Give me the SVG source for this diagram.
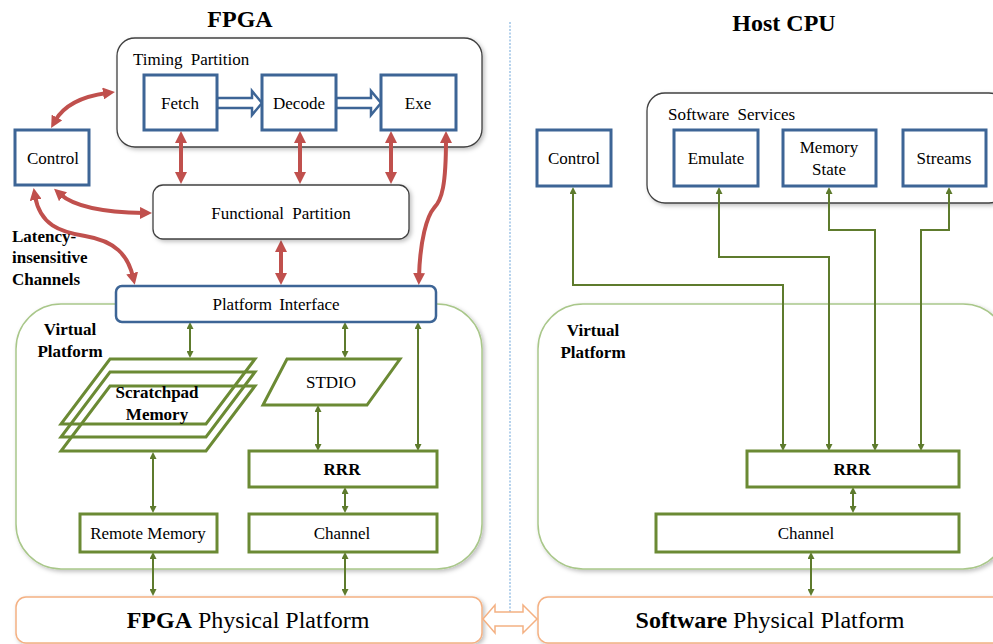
<svg xmlns="http://www.w3.org/2000/svg" width="993" height="644" viewBox="0 0 993 644">
<style>
text{font-family:"Liberation Serif","Times New Roman",serif;fill:#000;font-size:17px}
.b{font-weight:bold}
.t{font-size:24px;font-weight:bold}
.c{text-anchor:middle}
.blue{fill:#fff;stroke:#3d6596;stroke-width:3}
.grn{fill:#fff;stroke:#6b8a34;stroke-width:3}
.cont{fill:#fff;stroke:#404040;stroke-width:1.3}
.vp{fill:#fff;stroke:#a9c78a;stroke-width:1.5}
.phys{fill:#fff;stroke:#f4b183;stroke-width:1.5}
.red{fill:none;stroke:#c0504d;stroke-width:4;marker-start:url(#ra);marker-end:url(#ra)}
.g{fill:none;stroke:#5e7b2d;stroke-width:2;marker-start:url(#ga);marker-end:url(#ga)}
.para{fill:none;stroke:#6b8a34;stroke-width:3}
</style>
<defs>
<marker id="ra" viewBox="0 0 12 12" markerWidth="12" markerHeight="12" refX="4" refY="6" orient="auto-start-reverse" markerUnits="userSpaceOnUse"><path d="M0,0 L12,6 L0,12 z" fill="#c0504d"/></marker>
<marker id="ga" viewBox="0 0 7 7" markerWidth="7" markerHeight="7" refX="3" refY="3.5" orient="auto-start-reverse" markerUnits="userSpaceOnUse"><path d="M0,0 L7,3.5 L0,7 z" fill="#5e7b2d"/></marker>
<filter id="sh" x="-5%" y="-5%" width="110%" height="120%"><feDropShadow dx="2" dy="2" stdDeviation="2" flood-color="#000" flood-opacity="0.25"/></filter>
</defs>
<rect width="993" height="644" fill="#fff"/>

<g id="titles">
<text class="t c" x="240" y="27">FPGA</text>
<text class="t c" x="784" y="31">Host CPU</text>
</g>
<line id="divider" x1="510" y1="22" x2="510" y2="612" stroke="#9dc3e6" stroke-width="1.5" stroke-dasharray="2,1.5"/>

<g id="timing-partition">
<rect class="cont" x="117" y="38" width="365" height="109" rx="18" filter="url(#sh)"/>
<text x="133" y="65" word-spacing="4">Timing Partition</text>
</g>
<g id="software-services">
<rect class="cont" x="647" y="93" width="360" height="110" rx="18" filter="url(#sh)"/>
<text x="668" y="120" word-spacing="4">Software Services</text>
</g>
<g id="fpga-virtual-platform">
<rect class="vp" x="16" y="304" width="466" height="265" rx="45" filter="url(#sh)"/>
<text class="b c" x="70" y="335">Virtual</text>
<text class="b c" x="70" y="357">Platform</text>
</g>
<g id="host-virtual-platform">
<rect class="vp" x="538" y="304" width="470" height="265" rx="45" filter="url(#sh)"/>
<text class="b c" x="593" y="336">Virtual</text>
<text class="b c" x="593" y="358">Platform</text>
</g>
<g id="fpga-physical-platform">
<rect class="phys" x="16" y="597" width="466" height="46" rx="10" filter="url(#sh)"/>
<text class="c" x="248" y="628" style="font-size:24px"><tspan font-weight="bold">FPGA</tspan> Physical Platform</text>
</g>
<g id="software-physical-platform">
<rect class="phys" x="538" y="597" width="470" height="46" rx="10" filter="url(#sh)"/>
<text class="c" x="770" y="628" style="font-size:24px"><tspan font-weight="bold">Software</tspan> Physical Platform</text>
</g>

<g id="latency-label">
<text class="b" x="12" y="242">Latency-</text>
<text class="b" x="12" y="263">insensitive</text>
<text class="b" x="12" y="285">Channels</text>
</g>

<g id="connectors">
<path class="red" d="M55,121 C65,103 85,96 107,93"/>
<path class="red" d="M181,139 V176"/>
<path class="red" d="M300,139 V176"/>
<path class="red" d="M391,139 V176"/>
<path class="red" d="M446,139 C446,185 442,200 434,208 C427,216 420,240 419,277"/>
<path class="red" d="M60,194 Q80,212 144,213"/>
<path class="red" d="M35,196 C40,225 60,232 85,236 C115,241 128,255 133,277"/>
<path class="red" d="M281,248 V277"/>
<path d="M217,98 H252 V91 L262,103 L252,115 V108 H217 Z" fill="#fff" stroke="#3d6596" stroke-width="2.5" stroke-linejoin="miter"/>
<path d="M336,98 H371 V91 L381,103 L371,115 V108 H336 Z" fill="#fff" stroke="#3d6596" stroke-width="2.5" stroke-linejoin="miter"/>
<path class="g" d="M190,326 V354"/>
<path class="g" d="M345,326 V354"/>
<path class="g" d="M418,326 V447"/>
<path class="g" d="M318,409 V447"/>
<path class="g" d="M153,456 V509"/>
<path class="g" d="M345,491 V509"/>
<path class="g" d="M153,556 V592"/>
<path class="g" d="M345,556 V592"/>
<path class="g" d="M573,191 V285 H783 V447"/>
<path class="g" d="M719,191 V257 H829 V447"/>
<path class="g" d="M829,191 V230 H875 V447"/>
<path class="g" d="M949,191 V230 H921 V447"/>
<path class="g" d="M853,491 V509"/>
<path class="g" d="M811,556 V592"/>
<path d="M483,619 L495,605 V612 H523 V605 L537,619 L523,633 V626 H495 V633 Z" fill="#fff" stroke="#f4b183" stroke-width="1.5"/>
</g>

<g id="fetch"><rect class="blue" x="144" y="75" width="73" height="55"/><text class="c" x="180" y="109">Fetch</text></g>
<g id="decode"><rect class="blue" x="262" y="75" width="74" height="55"/><text class="c" x="299" y="109">Decode</text></g>
<g id="exe"><rect class="blue" x="381" y="75" width="75" height="55"/><text class="c" x="418" y="109">Exe</text></g>
<g id="control-fpga"><rect class="blue" x="15" y="130" width="74" height="55"/><text class="c" x="53" y="164">Control</text></g>
<g id="functional-partition"><rect class="cont" x="153" y="185" width="256" height="54" rx="10" filter="url(#sh)"/><text class="c" x="281" y="219" word-spacing="4">Functional Partition</text></g>
<g id="platform-interface"><rect fill="#fff" stroke="#3d6596" stroke-width="2.5" x="116" y="286" width="320" height="36" rx="6"/><text class="c" x="276" y="310" word-spacing="3">Platform Interface</text></g>

<g id="scratchpad-memory">
<polygon class="para" points="110,359 255,359 206,424 61,424"/>
<polygon class="para" points="110,372 255,372 206,437 61,437"/>
<polygon class="para" points="110,386 255,386 206,451 61,451"/>
<text class="b c" x="157" y="398">Scratchpad</text>
<text class="b c" x="157" y="420">Memory</text>
</g>
<g id="stdio"><polygon class="para" points="287,359 400,359 367,405 263,405"/><text class="c" x="331" y="388">STDIO</text></g>
<g id="rrr-fpga"><rect class="grn" x="249" y="451" width="188" height="36"/><text class="b c" x="342" y="475">RRR</text></g>
<g id="remote-memory"><rect class="grn" x="80" y="514" width="137" height="38"/><text class="c" x="148" y="539">Remote Memory</text></g>
<g id="channel-fpga"><rect class="grn" x="249" y="514" width="188" height="38"/><text class="c" x="342" y="539">Channel</text></g>

<g id="control-host"><rect class="blue" x="537" y="130" width="74" height="56"/><text class="c" x="574" y="164">Control</text></g>
<g id="emulate"><rect class="blue" x="674" y="130" width="84" height="56"/><text class="c" x="716" y="164">Emulate</text></g>
<g id="memory-state"><rect class="blue" x="783" y="130" width="93" height="56"/><text class="c" x="829" y="153">Memory</text><text class="c" x="829" y="175">State</text></g>
<g id="streams"><rect class="blue" x="903" y="130" width="83" height="56"/><text class="c" x="944" y="164">Streams</text></g>
<g id="rrr-host"><rect class="grn" x="747" y="451" width="212" height="36"/><text class="b c" x="852" y="475">RRR</text></g>
<g id="channel-host"><rect class="grn" x="656" y="514" width="303" height="38"/><text class="c" x="806" y="539">Channel</text></g>
</svg>
